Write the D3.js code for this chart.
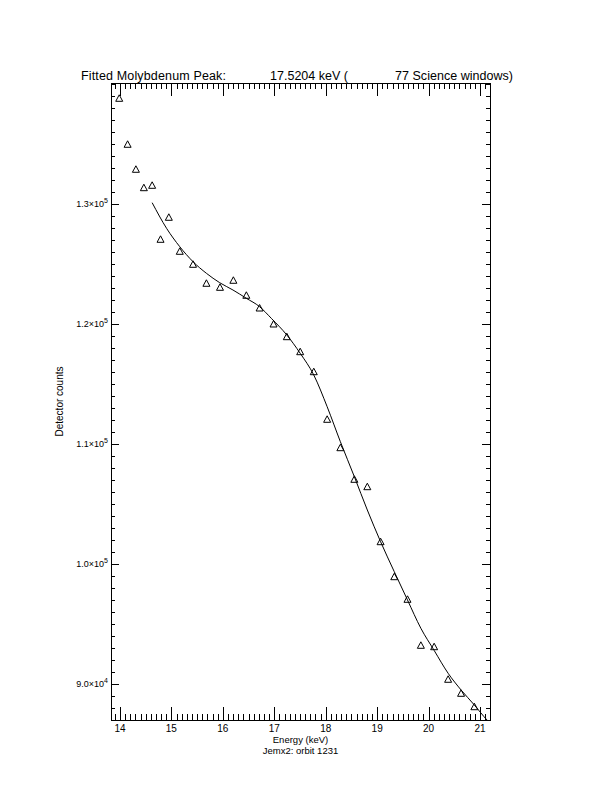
<!DOCTYPE html>
<html><head><meta charset="utf-8">
<script src="https://cdn.jsdelivr.net/npm/d3@7"></script>
<style>
body{margin:0;background:#fff}
svg text{font-family:"Liberation Sans","DejaVu Sans",Arial,sans-serif;fill:#000}
</style>
</head><body>
<svg id="chart" width="612" height="792"></svg>
<script>
// ---- data ----
const energy = [13.986,14.149,14.310,14.465,14.626,14.789,14.950,15.163,15.421,15.681,
  15.945,16.205,16.457,16.715,16.986,17.244,17.504,17.768,18.028,18.285,
  18.557,18.809,19.067,19.333,19.590,19.850,20.108,20.380,20.632,20.890];
const counts = [138808,134975,132892,131358,131558,127058,128892,126058,124975,123392,
  123058,123642,122392,121333,120000,118942,117692,116025,112058,109692,
  107058,106442,101858,98942,97058,93225,93108,90392,89225,88108];
const fitEnergy = [14.626,14.906,15.163,15.421,15.681,15.939,16.197,16.457,16.715,16.942,
  17.244,17.504,17.768,18.028,18.285,18.557,18.809,19.067,19.333,19.590,
  19.850,20.108,20.380,20.632,20.890,21.078,21.200];
const fitCounts = [130108,127975,126442,125192,124225,123442,122833,122142,121442,120475,
  119083,117558,115750,113108,110192,107275,104500,101858,99358,97000,
  94642,92800,90892,89500,88250,87275,86700];
const xTicks = [14,15,16,17,18,19,20,21];
const xTickLabels = ["14","15","16","17","18","19","20","21"];
const yTicks = [90000,100000,110000,120000,130000];
const yMantissa = ["9.0","1.0","1.1","1.2","1.3"];
const yExponent = ["4","5","5","5","5"];
const xDomain = [13.826, 21.194];
const yDomain = [87000, 140083];
const titleParts = ["Fitted Molybdenum Peak:", "17.5204 keV (", "77 Science windows)"];
const xTitle = "Energy (keV)";
const subTitle = "Jemx2: orbit 1231";
const yTitle = "Detector counts";

// ---- layout ----
const L = 111, R = 490, T = 83, B = 720;
const svg = d3.select("#chart");
svg.append("rect").attr("width",612).attr("height",792).attr("fill","#fff");

const x = d3.scaleLinear().domain(xDomain).range([L, R]);
const y = d3.scaleLinear().domain(yDomain).range([B, T]);

const xMinor = d3.range(138, 212).map(d => d/10).filter(d => d >= xDomain[0] && d <= xDomain[1] && !xTicks.includes(d));
const yMinor = d3.range(87, 141).map(d => d*1000).filter(d => d >= yDomain[0] && d <= yDomain[1] && !yTicks.includes(d));

const xMajLen = 12.7, xMinLen = 6.4, yMajLen = 7.6, yMinLen = 3.8;

function drawAxis(gen, ticks, len, transform) {
  const g = svg.append("g").attr("transform", transform)
    .call(gen.tickValues(ticks).tickSizeInner(-len).tickSizeOuter(0).tickFormat(""));
  g.select(".domain").remove();
  g.selectAll("line").attr("stroke","#000").attr("stroke-width",1).attr("shape-rendering","crispEdges");
  return g;
}
drawAxis(d3.axisBottom(x), xTicks, xMajLen, `translate(0,${B})`);
drawAxis(d3.axisBottom(x), xMinor, xMinLen, `translate(0,${B})`);
drawAxis(d3.axisTop(x), xTicks, xMajLen, `translate(0,${T})`);
drawAxis(d3.axisTop(x), xMinor, xMinLen, `translate(0,${T})`);
drawAxis(d3.axisLeft(y), yTicks, yMajLen, `translate(${L},0)`);
drawAxis(d3.axisLeft(y), yMinor, yMinLen, `translate(${L},0)`);
drawAxis(d3.axisRight(y), yTicks, yMajLen, `translate(${R},0)`);
drawAxis(d3.axisRight(y), yMinor, yMinLen, `translate(${R},0)`);

svg.append("rect").attr("x",L).attr("y",T).attr("width",R-L).attr("height",B-T)
  .attr("fill","none").attr("stroke","#000").attr("stroke-width",1).attr("shape-rendering","crispEdges");

// x tick labels
svg.append("g").selectAll("text").data(xTicks).join("text")
  .attr("x", d => x(d)).attr("y", B + 12).attr("text-anchor","middle")
  .attr("font-size", 10).text((d,i) => xTickLabels[i]);

// y tick labels
const yl = svg.append("g").selectAll("text").data(yTicks).join("text")
  .attr("x", L - 3).attr("y", d => y(d) + 3.5).attr("text-anchor","end").attr("font-size", 9);
yl.append("tspan").text((d,i) => yMantissa[i] + "\u00d710");
yl.append("tspan").attr("dy", -4).attr("font-size", 7).text((d,i) => yExponent[i]);

// titles
const tX = [81, 270, 395], tW = [145, 78, 118];
titleParts.forEach((t,i) => {
  svg.append("text").attr("x", tX[i]).attr("y", 80).attr("font-size", 12.5)
    .attr("textLength", tW[i]).attr("lengthAdjust","spacing").text(t);
});
svg.append("text").attr("x", (L+R)/2).attr("y", 743).attr("text-anchor","middle")
  .attr("font-size", 9.5).text(xTitle);
svg.append("text").attr("x", (L+R)/2).attr("y", 754).attr("text-anchor","middle")
  .attr("font-size", 9.5).text(subTitle);
svg.append("text").attr("transform", `translate(63,${(T+B)/2}) rotate(-90)`)
  .attr("text-anchor","middle").attr("font-size", 10).text(yTitle);

// clip
svg.append("clipPath").attr("id","plotclip").append("rect")
  .attr("x",L).attr("y",T).attr("width",R-L).attr("height",B-T);

// fit line
const line = d3.line().x((d,i) => x(fitEnergy[i])).y(d => y(d)).curve(d3.curveMonotoneX);
svg.append("path").datum(fitCounts).attr("d", line).attr("fill","none")
  .attr("stroke","#000").attr("stroke-width",1).attr("clip-path","url(#plotclip)");

// triangles
svg.append("g").selectAll("path").data(counts).join("path")
  .attr("d", (d,i) => {
    const cx = x(energy[i]), cy = y(d);
    return `M${cx-3.5},${cy+3}L${cx+3.5},${cy+3}L${cx},${cy-3.5}Z`;
  })
  .attr("fill","none").attr("stroke","#000").attr("stroke-width",1);
</script>
</body></html>
